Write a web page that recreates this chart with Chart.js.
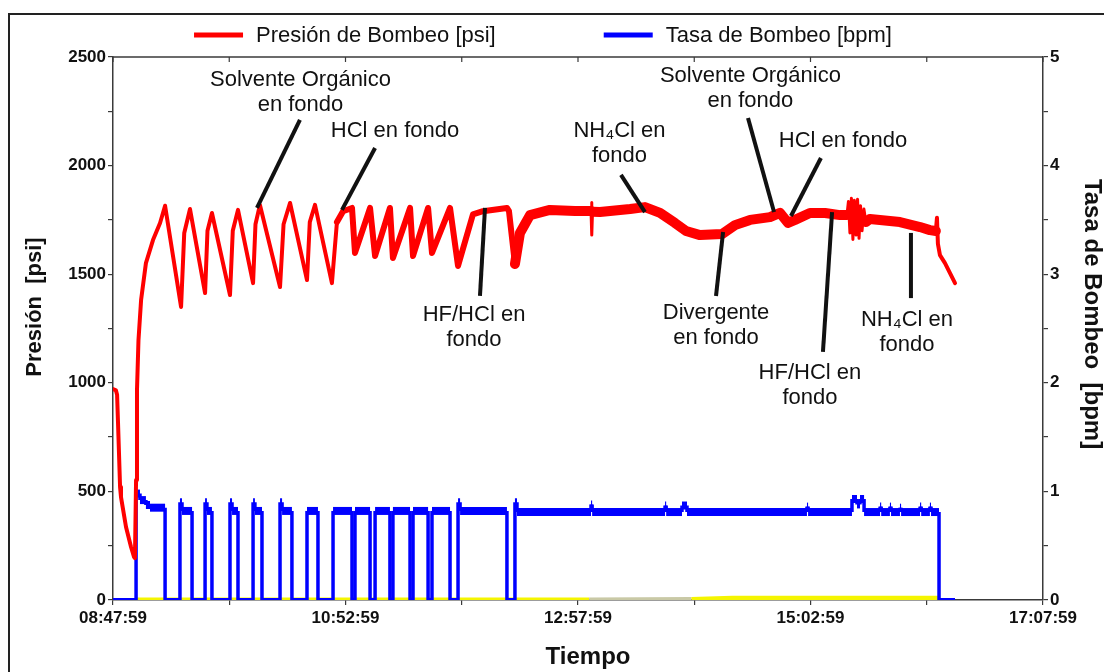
<!DOCTYPE html>
<html><head><meta charset="utf-8">
<script src="https://cdn.jsdelivr.net/npm/chart.js@4/dist/chart.umd.min.js"></script>
<style>
html,body{margin:0;padding:0;background:#fff;}
#wrap{position:relative;width:1104px;height:672px;overflow:hidden;background:#fff;}
canvas{position:absolute;left:0;top:0;}
#frame{position:absolute;left:8px;top:13px;width:1300px;height:900px;border-left:2px solid #222;border-top:2px solid #222;pointer-events:none;}
</style></head><body>
<div id="wrap"><canvas id="c" width="1104" height="672"></canvas><div id="frame"></div></div>
<script>
// ---------- DATA (time in minutes after 08:47:59) ----------
const timeTickLabels = ['08:47:59','10:52:59','12:57:59','15:02:59','17:07:59'];
const axisTitles = { x:'Tiempo', y:'Presión  [psi]', y2:'Tasa de Bombeo  [bpm]' };

const pressureTime = [0,1.6,2.2,2.7,3.8,4.3,7.0,9.7,11.3,11.8,12.4,12.9,13.7,15.1,17.7,21.5,25.3,28.0,
  36.6,38.3,41.4,49.5,50.8,53.2,62.9,64.4,67.2,75.3,76.6,79.0,89.8,91.7,95.2,104.3,105.8,108.6,117.7,120.4,123.7,128.5,
  130.1,138.2,140.9,148.9,150.5,159.7,161.3,169.4,171.5,181.2,185.5,193.5,198.9,211.8,212.9,
  216.1,218.8,224.2,234.9,248.4,257.0,257.3,257.5,257.8,261.8,278.0,286.0,294.1,302.1,308.1,
  315.6,327.4,334.4,342.5,353.2,358.6,362.9,366.7,374.7,382.8,390.9,394.6,395.4,396.2,397.0,397.8,
  398.6,399.5,400.3,401.1,401.9,402.7,403.7,404.8,406.9,423.1,433.9,439.2,442.4,443.0,443.5,444.6,
  447.3,450.0,452.7];
const pressurePsi = [971,965,945,815,520,474,336,244,198,193,552,967,1197,1381,1551,1657,1736,1815,
  1349,1690,1800,1413,1700,1782,1404,1700,1796,1459,1730,1819,1441,1730,1828,1473,1740,1819,1459,1740,1790,1805,
  1598,1805,1584,1805,1575,1805,1584,1805,1598,1805,1538,1775,1790,1805,1790,
  1547,1690,1772,1796,1791,1791,1830,1680,1788,1786,1800,1809,1782,1736,1699,
  1680,1685,1726,1750,1763,1782,1736,1750,1782,1782,1772,1772,1835,1690,1850,
  1660,1840,1680,1845,1665,1815,1700,1800,1740,1754,1740,1717,1703,1699,1760,1640,1588,
  1551,1505,1459];

// rate: value holds from each change time until the next one
const rateTime = [0,12.4,14.5,17.7,19.9,28.0,36.0,37.1,42.5,49.5,50.5,53.2,62.9,64.0,67.2,
  75.3,76.3,80.1,89.8,90.9,96.2,104.3,110.2,118.3,128.5,130.1,138.2,140.9,148.9,150.5,159.7,
  161.3,169.4,171.5,181.2,185.5,186.6,211.8,216.1,217.2,257.0,257.6,296.8,297.4,305.9,308.6,
  373.1,373.7,397.3,400.0,401.6,403.8,412.4,413.0,417.7,418.3,423.1,423.7,433.9,434.5,
  439.2,439.8,444.1,452.7];
const rateBpm = [0,0.98,0.92,0.875,0.85,0,0.9,0.82,0,0.9,0.82,0,0.9,0.82,0,
  0.9,0.82,0,0.9,0.82,0,0.82,0,0.82,0,0.82,0,0.82,0,0.82,0,
  0.82,0,0.82,0,0.9,0.82,0,0.9,0.81,0.88,0.81,0.87,0.81,0.87,0.81,
  0.86,0.81,0.93,0.88,0.93,0.81,0.86,0.81,0.86,0.81,0.85,0.81,0.86,0.81,
  0.86,0.81,0,0];

const auxTime = [12.4,256,311,333,444];
const auxBpm  = [0.0,0.0,0.005,0.015,0.015];

const annotations = [
  {lines:['Solvente Orgánico','en fondo'], t:100.8, p:2394, l:[100.5,2210,77.4,1805]},
  {lines:['HCl en fondo'], t:151.6, p:2159, l:[140.9,2081,123.1,1796]},
  {lines:['HF/HCl en','fondo'], t:194.1, p:1312, l:[200.0,1805,197.3,1400]},
  {lines:['NH₄Cl en','fondo'], t:272.3, p:2159, l:[273.1,1957,286.0,1786]},
  {lines:['Solvente Orgánico','en fondo'], t:342.7, p:2413, l:[341.4,2219,355.4,1786]},
  {lines:['HCl en fondo'], t:392.5, p:2113, l:[380.6,2035,364.5,1768]},
  {lines:['Divergente','en fondo'], t:324.2, p:1321, l:[328.0,1694,324.2,1400]},
  {lines:['HF/HCl en','fondo'], t:374.7, p:1045, l:[386.6,1786,381.7,1142]},
  {lines:['NH₄Cl en','fondo'], t:426.9, p:1289, l:[429.0,1690,429.0,1390]}
];

// ---------- BUILD ----------
const pressureData = pressureTime.map((t,i)=>({x:t,y:pressurePsi[i]}));
const rateData = [];
rateTime.forEach((t,i)=>{ if(i>0) rateData.push({x:t,y:rateBpm[i-1]}); rateData.push({x:t,y:rateBpm[i]}); });
const auxData = auxTime.map((t,i)=>({x:t,y:auxBpm[i]}));

const FONT = '"Liberation Sans", Arial, sans-serif';
const AXIS = '#3a3a3a';

function pressureWidth(c){
  const t = c.p0.parsed.x;
  if (t < 120 || t >= 442.4) return 4;
  if (t < 216) return 6;
  if (t >= 257 && t < 257.8) return 3;
  if (t >= 394.6 && t < 404.8) return 3;
  return 10;
}

const deco = {
  id:'deco',
  afterDatasetsDraw(chart){
    const ctx = chart.ctx, xs = chart.scales.x, ys = chart.scales.y;
    ctx.save();
    ctx.strokeStyle = '#111'; ctx.lineWidth = 4; ctx.lineCap = 'butt';
    annotations.forEach(a=>{
      ctx.beginPath();
      ctx.moveTo(xs.getPixelForValue(a.l[0]), ys.getPixelForValue(a.l[1]));
      ctx.lineTo(xs.getPixelForValue(a.l[2]), ys.getPixelForValue(a.l[3]));
      ctx.stroke();
    });
    ctx.fillStyle = '#111';
    ctx.font = '22px ' + FONT;
    ctx.textAlign = 'center'; ctx.textBaseline = 'middle';
    annotations.forEach(a=>{
      const x = xs.getPixelForValue(a.t), y = ys.getPixelForValue(a.p);
      a.lines.forEach((s,k)=> ctx.fillText(s, x, y + k*25));
    });
    ctx.restore();
  },
  afterDraw(chart){
    const ctx = chart.ctx, ca = chart.chartArea, xs = chart.scales.x;
    ctx.save();
    // top frame with inward ticks
    ctx.strokeStyle = AXIS; ctx.lineWidth = 1.5;
    ctx.beginPath(); ctx.moveTo(ca.left, ca.top); ctx.lineTo(ca.right, ca.top); ctx.stroke();
    ctx.lineWidth = 1.2;
    xs.ticks.forEach(tk=>{
      const px = xs.getPixelForValue(tk.value);
      ctx.beginPath(); ctx.moveTo(px, ca.top); ctx.lineTo(px, ca.top+5); ctx.stroke();
    });
    // axis titles
    ctx.fillStyle = '#111'; ctx.textAlign = 'center'; ctx.textBaseline = 'middle';
    ctx.font = 'bold 24px ' + FONT;
    ctx.fillText(axisTitles.x, 588, 657);
    ctx.save(); ctx.translate(35, 307); ctx.rotate(-Math.PI/2);
    ctx.font = 'bold 22px ' + FONT; ctx.fillText(axisTitles.y, 0, 0); ctx.restore();
    ctx.save(); ctx.translate(1092, 314); ctx.rotate(Math.PI/2);
    ctx.font = 'bold 24px ' + FONT; ctx.fillText(axisTitles.y2, 0, 0); ctx.restore();
    // legend
    const items = chart.data.datasets.filter(d=>d.label);
    ctx.font = '22px ' + FONT;
    const sampleW = 49, gap = 13, itemGap = 108;
    const widths = items.map(d=> sampleW + gap + ctx.measureText(d.label).width);
    const total = widths.reduce((a,b)=>a+b,0) + itemGap*(items.length-1);
    let x = 543 - total/2; const y = 35;
    ctx.textAlign = 'left'; ctx.textBaseline = 'middle'; ctx.fillStyle = '#111';
    items.forEach((d,i)=>{
      ctx.strokeStyle = d.borderColor; ctx.lineWidth = 5; ctx.lineCap = 'butt';
      ctx.beginPath(); ctx.moveTo(x, y); ctx.lineTo(x+sampleW, y); ctx.stroke();
      ctx.fillText(d.label, x + sampleW + gap, y+1);
      x += widths[i] + itemGap;
    });
    ctx.restore();
  }
};

new Chart(document.getElementById('c'), {
  type:'line',
  data:{ datasets:[
    { label:'Presión de Bombeo [psi]', data:pressureData, yAxisID:'y', borderColor:'#ff0000',
      borderWidth:4, pointRadius:0, order:0, borderJoinStyle:'round', borderCapStyle:'round',
      segment:{ borderWidth: pressureWidth } },
    { label:'Tasa de Bombeo [bpm]', data:rateData, yAxisID:'y2', borderColor:'#0000ff',
      borderWidth:3.5, pointRadius:0, order:1,
      segment:{ borderWidth: c => (c.p0.parsed.y === c.p1.parsed.y && c.p0.parsed.y > 0.3) ? 8 : (c.p0.parsed.y === c.p1.parsed.y ? 4 : 3.5) } },
    { label:'', data:auxData, yAxisID:'y2', borderColor:'#f5f500', borderWidth:5, pointRadius:0, order:2,
      segment:{ borderColor: c => (c.p0.parsed.x >= 256 && c.p0.parsed.x < 311) ? '#c9c9a6' : '#f5f500' } }
  ]},
  options:{
    responsive:false, animation:false, devicePixelRatio:1,
    layout:{ padding:{ top:57, left:0, right:0, bottom:0 } },
    plugins:{ legend:{display:false}, tooltip:{enabled:false} },
    scales:{
      x:{ type:'linear', position:'bottom', min:0, max:500,
        ticks:{ stepSize:62.5, autoSkip:false, maxRotation:0, padding:3, color:'#111',
          font:{ family:FONT, size:17, weight:'bold' },
          callback:v=>{ const i = v/125; return Number.isInteger(i) ? timeTickLabels[i] : ''; } },
        grid:{ drawOnChartArea:false, drawTicks:true, tickLength:5, color:AXIS, lineWidth:1.2 },
        border:{ display:true, color:AXIS, width:1.5 },
        afterFit:s=>{ s.height = 72; } },
      y:{ position:'left', min:0, max:2500,
        ticks:{ stepSize:250, padding:2, color:'#111', font:{ family:FONT, size:17, weight:'bold' },
          callback:v=> v % 500 === 0 ? v : '' },
        grid:{ drawOnChartArea:false, drawTicks:true, tickLength:5, color:AXIS, lineWidth:1.2 },
        border:{ display:true, color:AXIS, width:1.5 },
        afterFit:s=>{ s.width = 113; } },
      y2:{ position:'right', min:0, max:5,
        ticks:{ stepSize:0.5, padding:2, color:'#111', font:{ family:FONT, size:17, weight:'bold' },
          callback:v=> Number.isInteger(v) ? v : '' },
        grid:{ drawOnChartArea:false, drawTicks:true, tickLength:5, color:AXIS, lineWidth:1.2 },
        border:{ display:true, color:AXIS, width:1.5 },
        afterFit:s=>{ s.width = 61; } }
    }
  },
  plugins:[deco]
});
</script>
</body></html>
